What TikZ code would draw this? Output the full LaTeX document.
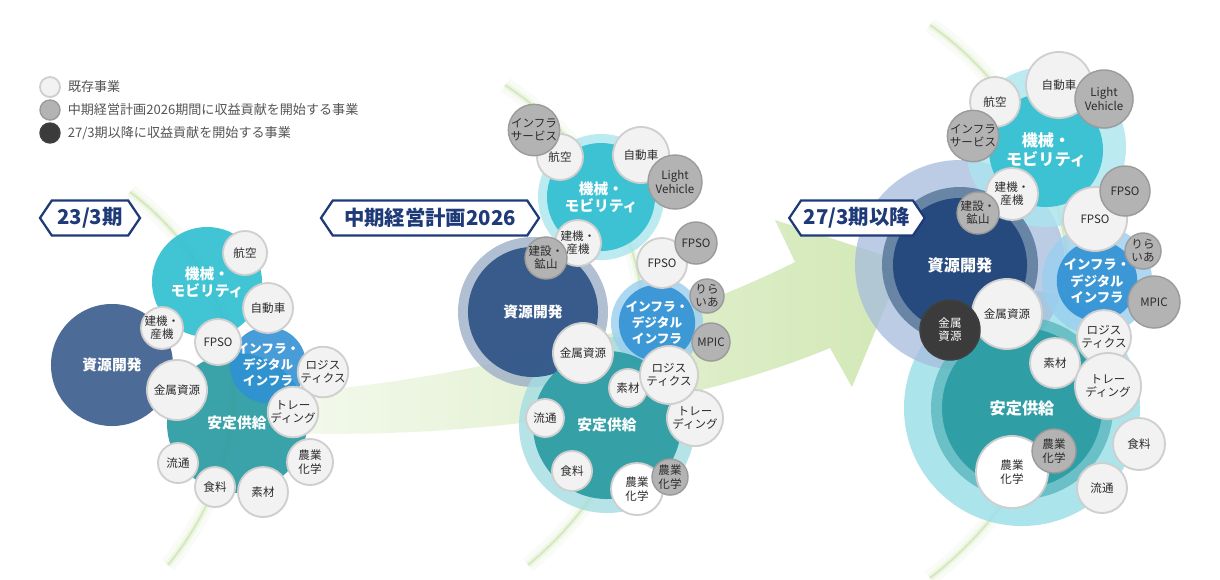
\documentclass[tikz,border=0pt]{standalone}
\usepackage{fontspec}
\setmainfont{Noto Sans CJK JP}
\usetikzlibrary{positioning,shapes.symbols,shadows}
\definecolor{hnavy}{HTML}{1F3A78}
\definecolor{cnavy}{HTML}{3F6090}
\definecolor{cnavyb}{HTML}{2F5486}
\definecolor{cnavyc}{HTML}{22467A}
\definecolor{rnavy}{HTML}{5A799C}
\definecolor{hlnavy}{HTML}{9DAFC6}
\definecolor{hlnavyb}{HTML}{A6BCDD}
\definecolor{ccyan}{HTML}{33C0D1}
\definecolor{hlcyan}{HTML}{AAE5EE}
\definecolor{cteal}{HTML}{2C9CA3}
\definecolor{rteal}{HTML}{5BB8BF}
\definecolor{hlteal}{HTML}{A4DDE2}
\definecolor{hltealb}{HTML}{9EE0E9}
\definecolor{cblue}{HTML}{2F90D4}
\definecolor{hlblue}{HTML}{9ACFEF}
\definecolor{exfill}{HTML}{F2F2F2}
\definecolor{exdraw}{HTML}{CFCFCF}
\definecolor{mdfill}{HTML}{B3B3B3}
\definecolor{mddraw}{HTML}{9B9B9B}
\definecolor{ltfill}{HTML}{3B3B3B}
\definecolor{dtext}{HTML}{2B2B2B}
\definecolor{legtext}{HTML}{555555}
\definecolor{agreen}{HTML}{D2E8B6}
\definecolor{garc}{HTML}{B7D98C}
\tikzset{
  bub/.style={circle,inner sep=0pt,align=center,minimum size=#1*0.05cm,font=\fontsize{8.2}{9.4}\selectfont,text=dtext},
  exist/.style={bub=#1,fill=exfill,draw=exdraw,line width=1.3pt,drop shadow={opacity=0.18,shadow xshift=0.4pt,shadow yshift=-0.6pt}},
  plan/.style={bub=#1,fill=mdfill,draw=mddraw,line width=1pt,drop shadow={opacity=0.18,shadow xshift=0.4pt,shadow yshift=-0.6pt}},
  late/.style={bub=#1,fill=ltfill,draw=black!75,line width=1pt,text=white},
  seg/.style={circle,inner sep=0pt,align=center,minimum size=#1*0.05cm,text=white,fill opacity=0.93,text opacity=1,font=\fontsize{10.5}{12}\selectfont\bfseries},
  infra/.style={seg=#1,font=\fontsize{9}{11.5}\selectfont\bfseries},
  tag/.style={signal,signal to=west and east,signal pointer angle=112,draw=hnavy,line width=1.6pt,fill=white,text=hnavy,font=\fontsize{14.5}{16}\selectfont\bfseries,minimum height=0.875cm,inner xsep=2pt},
  legtxt/.style={font=\fontsize{9.3}{11}\selectfont,text=legtext,inner sep=0pt},
}
\begin{document}
\begin{tikzpicture}[x=0.025cm,y=-0.025cm]
  \useasboundingbox[fill=white] (0,0) rectangle (1220,579);
  % green arcs behind the clusters
  \foreach \w/\o in {16/0.07,7/0.12,2.2/0.45} {
    \draw[garc,line width=\w*0.025cm,opacity=\o] (130,192) .. controls (260,290) and (262,450) .. (168,565);
    \draw[garc,line width=\w*0.025cm,opacity=\o] (505,85) .. controls (680,200) and (692,430) .. (528,565);
    \draw[garc,line width=\w*0.025cm,opacity=\o] (930,25) .. controls (1110,150) and (1122,430) .. (930,578);
  }
  % growth arrow
  \shade[left color=agreen!25,right color=agreen] (285,393) .. controls (450,382) and (650,335) .. (795,262) -- (775,220) -- (904,262) -- (852,387) -- (830,348) .. controls (700,402) and (500,440) .. (285,433) -- cycle;

  % 23/3
  \node[seg=61,fill=cnavy] (lshig) at (112,365) {資源開発};
  \node[seg=55,fill=ccyan] (lkika) at (207,282) {機械・\\モビリティ};
  \node[seg=70,fill=cteal] (lante) at (237,423) {安定供給};
  \node[infra=33,fill=cblue,fill opacity=0.88] (linfr) at (268,365) {インフラ・\\デジタル\\インフラ};
  \foreach \n/\x/\y/\r/\t in {lkoku/245/253/22/航空, ljido/268/308/25/自動車, lkenki/162/328/20/{建機・\\産機}, lfpso/218/342/23/FPSO, lkinz/177/390/30/金属資源, llogi/323/372/25/{ロジス\\ティクス}, ltrad/293/412/25/{トレー\\ディング}, lryut/178/463/20/流通, lshok/215/487/20/食料, lsoza/263/492/25/素材, lnogy/310/462/23/{農業\\化学}}
    \node[exist=\r] (\n) at (\x,\y) {\t};

  % 中期経営計画2026
  \fill[hlnavy,opacity=0.8] (533,312) circle [radius=75];
  \fill[hlcyan,opacity=0.8] (601,197) circle [radius=63];
  \fill[hlteal,opacity=0.8] (607,425) circle [radius=88];
  \fill[hlblue,opacity=0.8] (657,323) circle [radius=46];
  \node[seg=65,fill=cnavyb] (mshig) at (533,312) {資源開発};
  \node[seg=54,fill=ccyan] (mkika) at (601,197) {機械・\\モビリティ};
  \node[seg=74,fill=cteal] (mante) at (607,425) {安定供給};
  \node[infra=36,fill=cblue,fill opacity=0.88] (minfr) at (657,323) {インフラ・\\デジタル\\インフラ};
  \foreach \n/\x/\y/\r/\t in {mkoku/560/157/23/航空, mjido/641/155/28/自動車, mkenki/578/243/23/{建機・\\産機}, mfpso/662/263/25/FPSO, mkinz/583/353/30/金属資源, mtrad/695/418/28/{トレー\\ディング}, msoza/628/388/19/素材, mlogi/669/375/29/{ロジス\\ティクス}, mryut/545/418/19/流通, mshok/572/471/20/食料}
    \node[exist=\r] (\n) at (\x,\y) {\t};
  \node[exist=26,fill=white] (mnogy) at (637,489) {農業\\化学};
  \foreach \n/\x/\y/\r/\t in {minfs/534/130/24/{インフラ\\サービス}, mlv/675/182/27/{Light\\Vehicle}, mkens/546/258/19/{建設・\\鉱山}, mfpso2/696/243/21/FPSO, mrira/707/296/17/{りら\\いあ}, mmpic/711/342/19/MPIC, mnogy2/670/477/18/{農業\\化学}}
    \node[plan=\r] (\n) at (\x,\y) {\t};

  % 27/3以降
  \fill[hltealb,opacity=0.85] (1022,408) circle [radius=118];
  \fill[hlnavyb,opacity=0.75] (960,265) circle [radius=105];
  \fill[hlcyan,opacity=0.8] (1046,147) circle [radius=80];
  \fill[hlblue,opacity=0.8] (1097,280) circle [radius=55];
  \fill[rteal,opacity=0.8] (1022,408) circle [radius=91];
  \fill[rnavy,opacity=0.85] (960,265) circle [radius=78];
  \node[seg=67,fill=cnavyc,font=\fontsize{11.5}{13}\selectfont\bfseries] (rshig) at (960,265) {資源開発};
  \node[seg=57,fill=ccyan,font=\fontsize{11.5}{13.5}\selectfont\bfseries] (rkika) at (1046,150) {機械・\\モビリティ};
  \node[seg=80,fill=cteal,font=\fontsize{11.5}{13}\selectfont\bfseries] (rante) at (1022,408) {安定供給};
  \node[infra=38,fill=cblue,fill opacity=0.9,font=\fontsize{9.5}{12}\selectfont\bfseries] (rinfr) at (1097,281) {インフラ・\\デジタル\\インフラ};
  \foreach \n/\x/\y/\r/\t in {rjido/1059/85/33/自動車, rkoku/995/102/25/航空, rkenki/1012/194/26/{建機・\\産機}, rfpso/1095/219/32/FPSO, rkinz/1007/314/35/金属資源, rsoza/1055/363/25/素材, rlogi/1104/337/27/{ロジス\\ティクス}, rtrad/1108/386/33/{トレー\\ディング}, rshok/1139/444/26/食料, rryut/1102/488/25/流通}
    \node[exist=\r] (\n) at (\x,\y) {\t};
  \node[exist=36,fill=white] (rnogy) at (1012,472) {農業\\化学};
  \foreach \n/\x/\y/\r/\t in {rlv/1104/99/29/{Light\\Vehicle}, rinfs/973/136/25/{インフラ\\サービス}, rkens/978/213/20/{建設・\\鉱山}, rfpso2/1125/191/25/FPSO, rrira/1143/251/18/{りら\\いあ}, rmpic/1154/302/26/MPIC, rnogy2/1054/451/22/{農業\\化学}}
    \node[plan=\r] (\n) at (\x,\y) {\t};
  \node[late=30] (rkinz2) at (950,330) {金属\\資源};

  % period tags
  \node[tag,minimum width=2.5cm] (h233) at (90,218) {23/3期};
  \node[tag,minimum width=5.45cm] (hmid) at (430,218) {中期経営計画2026};
  \node[tag,minimum width=3.38cm] (h273) at (857,218) {27/3期以降};

  % legend
  \node[exist=10] (leg1) at (50,87) {};
  \node[plan=10] (leg2) at (50,110) {};
  \node[late=10] (leg3) at (50,133) {};
  \node[legtxt,right=0.17cm of leg1] (legt1) {既存事業};
  \node[legtxt,right=0.17cm of leg2] (legt2) {中期経営計画2026期間に収益貢献を開始する事業};
  \node[legtxt,right=0.17cm of leg3] (legt3) {27/3期以降に収益貢献を開始する事業};
\end{tikzpicture}
\end{document}
